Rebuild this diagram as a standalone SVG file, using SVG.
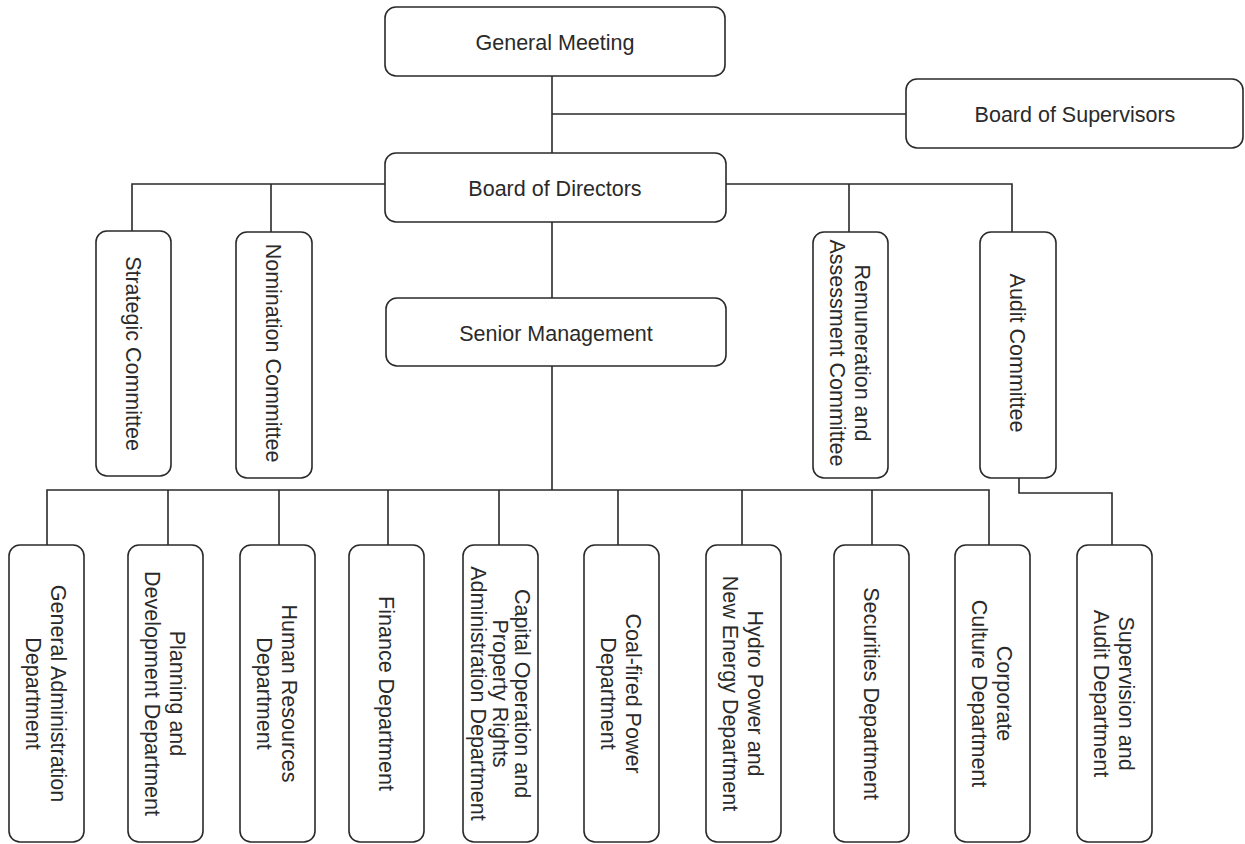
<svg xmlns="http://www.w3.org/2000/svg" width="1245" height="844" viewBox="0 0 1245 844">
<style>
  .box{fill:#fff;stroke:#2a2a2a;stroke-width:1.6}
  .t{font-family:"Liberation Sans",Arial,Helvetica,sans-serif;font-size:21.5px;fill:#2a2a2a;text-anchor:middle}
  .c{fill:none;stroke:#2a2a2a;stroke-width:1.6}
</style>
<rect width="1245" height="844" fill="#fff"/>
<g id="connectors">
  <path class="c" d="M552 76V153M552 114H906M552 222V298M552 366V490"/>
  <path class="c" d="M132 231V184H385M726 184H1012V232M271 184V232M849 184V232"/>
  <path class="c" d="M47 545V490H989V545M168 490V545M279 490V545M388 490V545M499 490V545M618 490V545M742 490V545M872 490V545"/>
  <path class="c" d="M1019 478V493H1112V545"/>
</g>
<g id="general-meeting"><rect class="box" x="385" y="7" width="340" height="69" rx="11"/><text class="t" x="555" y="50">General Meeting</text></g>
<g id="board-of-supervisors"><rect class="box" x="906" y="79" width="337" height="69" rx="11"/><text class="t" x="1075" y="122">Board of Supervisors</text></g>
<g id="board-of-directors"><rect class="box" x="385" y="153" width="341" height="69" rx="11"/><text class="t" x="555" y="196">Board of Directors</text></g>
<g id="senior-management"><rect class="box" x="386" y="298" width="340" height="68" rx="11"/><text class="t" x="556" y="341">Senior Management</text></g>

<g id="strategic-committee"><rect class="box" x="96" y="231" width="75" height="245" rx="11"/><text class="t" transform="translate(133.5 353.5) rotate(90)" y="7.7">Strategic Committee</text></g>
<g id="nomination-committee"><rect class="box" x="236" y="232" width="76" height="246" rx="11"/><text class="t" transform="translate(274 353) rotate(90)" y="7.7">Nomination Committee</text></g>
<g id="remuneration-committee"><rect class="box" x="813" y="232" width="75" height="246" rx="11"/><text class="t" transform="translate(850.5 353) rotate(90)"><tspan x="0" y="-4.8">Remuneration and</tspan><tspan x="0" y="20.2">Assessment Committee</tspan></text></g>
<g id="audit-committee"><rect class="box" x="980" y="232" width="76" height="246" rx="11"/><text class="t" transform="translate(1018 353) rotate(90)" y="7.7">Audit Committee</text></g>

<g id="general-administration"><rect class="box" x="9" y="545" width="75" height="297" rx="11"/><text class="t" transform="translate(46.5 693.5) rotate(90)"><tspan x="0" y="-4.8">General Administration</tspan><tspan x="0" y="20.2">Department</tspan></text></g>
<g id="planning-development"><rect class="box" x="128" y="545" width="75" height="297" rx="11"/><text class="t" transform="translate(165.5 693.5) rotate(90)"><tspan x="0" y="-4.8">Planning and</tspan><tspan x="0" y="20.2">Development Department</tspan></text></g>
<g id="human-resources"><rect class="box" x="240" y="545" width="75" height="297" rx="11"/><text class="t" transform="translate(277.5 693.5) rotate(90)"><tspan x="0" y="-4.8">Human Resources</tspan><tspan x="0" y="20.2">Department</tspan></text></g>
<g id="finance"><rect class="box" x="349" y="545" width="75" height="297" rx="11"/><text class="t" transform="translate(386.5 693.5) rotate(90)" y="7.7">Finance Department</text></g>
<g id="capital-operation"><rect class="box" x="463" y="545" width="75" height="297" rx="11"/><text class="t" transform="translate(500.5 693.5) rotate(90)"><tspan x="0" y="-14.3">Capital Operation and</tspan><tspan x="0" y="7.7">Property Rights</tspan><tspan x="0" y="29.7">Administration Department</tspan></text></g>
<g id="coal-fired-power"><rect class="box" x="584" y="545" width="75" height="297" rx="11"/><text class="t" transform="translate(621.5 693.5) rotate(90)"><tspan x="0" y="-4.8">Coal-fired Power</tspan><tspan x="0" y="20.2">Department</tspan></text></g>
<g id="hydro-power"><rect class="box" x="706" y="545" width="75" height="297" rx="11"/><text class="t" transform="translate(743.5 693.5) rotate(90)"><tspan x="0" y="-4.8">Hydro Power and</tspan><tspan x="0" y="20.2">New Energy Department</tspan></text></g>
<g id="securities"><rect class="box" x="834" y="545" width="75" height="297" rx="11"/><text class="t" transform="translate(871.5 693.5) rotate(90)" y="7.7">Securities Department</text></g>
<g id="corporate-culture"><rect class="box" x="955" y="545" width="75" height="297" rx="11"/><text class="t" transform="translate(992.5 693.5) rotate(90)"><tspan x="0" y="-4.8">Corporate</tspan><tspan x="0" y="20.2">Culture Department</tspan></text></g>
<g id="supervision-audit"><rect class="box" x="1077" y="545" width="75" height="297" rx="11"/><text class="t" transform="translate(1114.5 693.5) rotate(90)"><tspan x="0" y="-4.8">Supervision and</tspan><tspan x="0" y="20.2">Audit Department</tspan></text></g>
</svg>
